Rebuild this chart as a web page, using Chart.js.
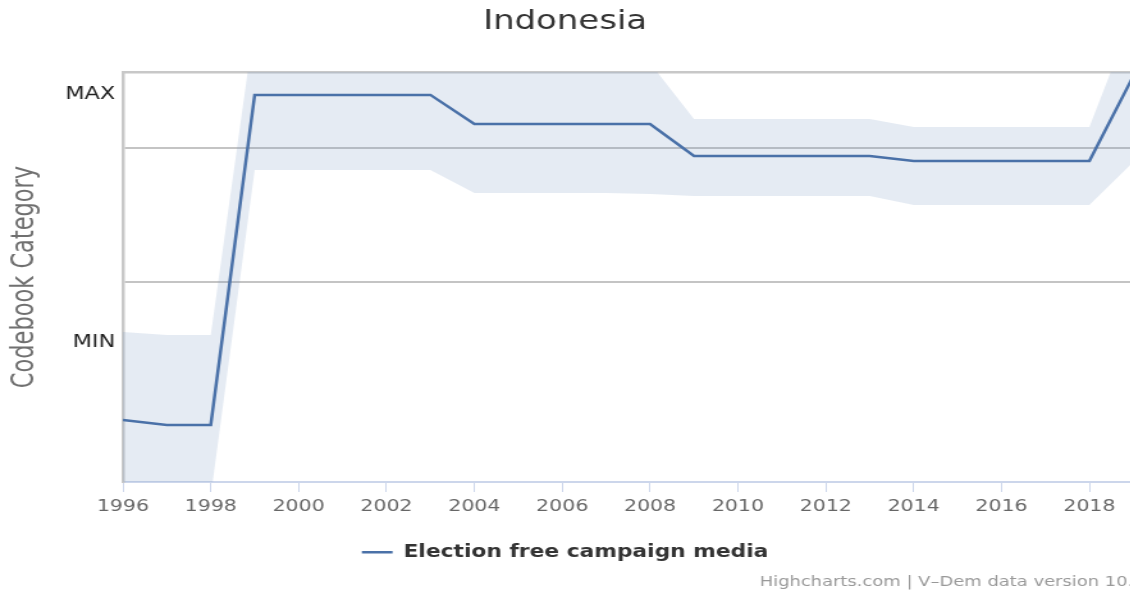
<!DOCTYPE html>
<html lang="en">

<head>
    <meta charset="UTF-8">
    <title>Indonesia - Election free campaign media</title>
    <script src="https://cdn.jsdelivr.net/npm/chart.js"></script>
    <style>
        body {
            margin: 0;
            padding: 0;
            background-color: #fff;
            overflow: hidden;
        }

        /* the reference is stretched horizontally, so draw narrower and scale it */
        #wrap {
            width: 883px;
            height: 590px;
            transform: scaleX(1.28);
            transform-origin: 0 0;
        }
    </style>
</head>

<body>
    <div id="wrap">
        <canvas id="chart" width="883" height="590"></canvas>
    </div>

    <script>
        const years = [1996, 1997, 1998, 1999, 2000, 2001, 2002, 2003, 2004, 2005, 2006, 2007,
            2008, 2009, 2010, 2011, 2012, 2013, 2014, 2015, 2016, 2017, 2018, 2019];

        // point estimate
        const estimate = [-0.03, -0.067, -0.067, 2.396, 2.396, 2.396, 2.396, 2.396, 2.179, 2.179, 2.179, 2.179,
            2.179, 1.94, 1.94, 1.94, 1.94, 1.94, 1.903, 1.903, 1.903, 1.903, 1.903, 2.537];

        // confidence band
        const upper = [0.627, 0.604, 0.604, 2.94, 2.95, 2.95, 2.95, 2.95, 2.75, 2.75, 2.75, 2.75,
            2.634, 2.216, 2.216, 2.216, 2.216, 2.216, 2.157, 2.157, 2.157, 2.157, 2.157, 3.0];
        const lower = [-0.6, -0.6, -0.6, 1.836, 1.836, 1.836, 1.836, 1.836, 1.664, 1.664, 1.664, 1.664,
            1.657, 1.642, 1.642, 1.642, 1.642, 1.642, 1.575, 1.575, 1.575, 1.575, 1.575, 1.896];

        const xTicks = [1996, 1998, 2000, 2002, 2004, 2006, 2008, 2010, 2012, 2014, 2016, 2018];
        const gridValues = [1, 2];
        const categoryValues = [0.552, 2.396];
        const categoryLabels = ['MIN', 'MAX'];

        const seriesName = 'Election free campaign media';
        const creditsText = 'Highcharts.com | V\u2013Dem data version 10.0';

        const pts = (arr) => years.map((yr, i) => ({ x: yr, y: arr[i] }));

        Chart.defaults.font.family = "'DejaVu Sans', Verdana, sans-serif";

        const credits = {
            id: 'credits',
            afterDraw(chart) {
                const ctx = chart.ctx;
                ctx.save();
                ctx.font = "14px 'DejaVu Sans', sans-serif";
                ctx.fillStyle = '#999';
                ctx.textAlign = 'left';
                ctx.textBaseline = 'alphabetic';
                ctx.fillText(creditsText, 593.5, 586);
                ctx.restore();
            }
        };

        new Chart(document.getElementById('chart'), {
            type: 'line',
            data: {
                datasets: [{
                    label: seriesName,
                    data: pts(estimate),
                    borderColor: '#4a71a8',
                    backgroundColor: '#4a71a8',
                    borderWidth: 2.5,
                    pointRadius: 0,
                    tension: 0,
                    fill: false
                }, {
                    label: 'upper',
                    data: pts(upper),
                    borderWidth: 0,
                    pointRadius: 0,
                    backgroundColor: 'rgba(124, 154, 196, 0.2)',
                    fill: '+1'
                }, {
                    label: 'lower',
                    data: pts(lower),
                    borderWidth: 0,
                    pointRadius: 0,
                    fill: false
                }]
            },
            options: {
                responsive: false,
                animation: false,
                events: [],
                layout: {
                    padding: { left: 0, right: 0, top: 0, bottom: 19.25 }
                },
                plugins: {
                    title: {
                        display: true,
                        text: 'Indonesia',
                        color: '#333',
                        font: { size: 26.5, weight: 'normal' },
                        padding: { top: 6, bottom: 34.2 }
                    },
                    legend: {
                        position: 'bottom',
                        labels: {
                            filter: (item) => item.datasetIndex === 0,
                            color: '#333',
                            font: { size: 17, weight: 'bold' },
                            padding: 10,
                            usePointStyle: true,
                            pointStyle: 'line',
                            pointStyleWidth: 24
                        }
                    },
                    tooltip: { enabled: false }
                },
                scales: {
                    x: {
                        type: 'linear',
                        min: 1996,
                        max: 2018.93,
                        afterBuildTicks: (scale) => {
                            scale.ticks = xTicks.map(v => ({ value: v }));
                        },
                        afterFit: (scale) => {
                            scale.height = 51.75;
                        },
                        ticks: {
                            callback: (v) => String(v),
                            color: '#666',
                            font: { size: 16 },
                            padding: 5,
                            maxRotation: 0,
                            autoSkip: false
                        },
                        grid: {
                            drawOnChartArea: false,
                            drawTicks: true,
                            tickLength: 10,
                            color: '#ccd6eb',
                            lineWidth: 1
                        },
                        border: { color: '#ccd6eb', width: 2 }
                    },
                    xTop: {
                        type: 'linear',
                        position: 'top',
                        min: 1996,
                        max: 2018.93,
                        z: 1,
                        afterFit: (scale) => {
                            scale.height = 0;
                        },
                        ticks: { display: false },
                        grid: { display: false },
                        border: { color: '#c8c8c8', width: 2.5 }
                    },
                    y: {
                        min: -0.4925,
                        max: 2.567,
                        afterBuildTicks: (scale) => {
                            scale.ticks = categoryValues.concat(gridValues).map(v => ({ value: v }));
                        },
                        afterFit: (scale) => {
                            scale.width = 96;
                        },
                        ticks: {
                            callback: (v) => {
                                const i = categoryValues.indexOf(v);
                                return i >= 0 ? categoryLabels[i] : '';
                            },
                            color: '#222',
                            font: { size: 17.5 },
                            padding: 6
                        },
                        grid: {
                            drawTicks: false,
                            color: (ctx) => gridValues.includes(ctx.tick && ctx.tick.value) ? '#c4c4c4' : 'rgba(0,0,0,0)',
                            lineWidth: 2
                        },
                        border: { color: '#c8c8c8', width: 2.5 },
                        title: {
                            display: true,
                            text: 'Codebook Category',
                            color: '#707070',
                            font: { family: "'Liberation Sans Narrow', 'DejaVu Sans Condensed', sans-serif", size: 25 },
                            padding: { top: 4.5, bottom: 0 }
                        }
                    }
                }
            },
            plugins: [credits]
        });
    </script>
</body>

</html>
